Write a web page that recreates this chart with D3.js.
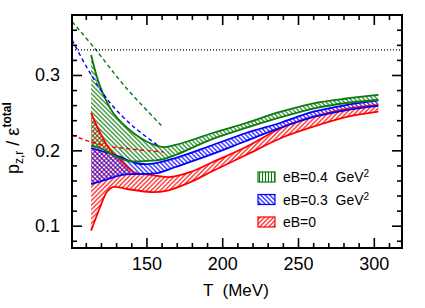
<!DOCTYPE html>
<html><head><meta charset="utf-8">
<script src="https://cdn.jsdelivr.net/npm/d3@7"></script>
<style>body{margin:0;background:#fff}svg{display:block}text{font-family:"Liberation Sans",Arial,sans-serif}</style>
</head><body><svg id="c" width="425" height="308"></svg>
<script>
// ---------- data ----------
const xMajorTicks = [150, 200, 250, 300];
const xMinorTicks = [110,120,130,140,160,170,180,190,210,220,230,240,260,270,280,290,310];
const yMajorTicks = [0.1, 0.2, 0.3];
const yMinorTicks = [0.08,0.12,0.14,0.16,0.18,0.22,0.24,0.26,0.28,0.32,0.34,0.36];
const idealGas = 1/3;

// eB = 0.4 GeV^2 band
const greenUpT = [113.5,119.5,128.1,141.4,150.7,161.3,169.2,193.8,215.7,238.1,260.2,282.1,303];
const greenUpV = [0.3265,0.2845,0.2496,0.2230,0.2111,0.2044,0.2071,0.2230,0.2363,0.2509,0.2624,0.2688,0.2735];
const greenLoT = [113.5,119.5,128.1,138.1,150.7,161.3,169.2,193.8,215.7,238.1,260.2,282.1,303];
const greenLoV = [0.2058,0.2031,0.1938,0.1859,0.1859,0.1885,0.1938,0.2151,0.2297,0.2436,0.2555,0.2628,0.2668];
// eB = 0.3 GeV^2 band
const blueUpT = [113.5,122.8,132.7,142.7,152.7,169.2,193.8,215.7,238.1,260.2,282.1,303];
const blueUpV = [0.2031,0.1978,0.1912,0.1832,0.1819,0.1898,0.2071,0.2230,0.2363,0.2513,0.2602,0.2662];
const blueLoT = [113.5,122.8,134.1,142.7,157.3,169.2,193.8,215.7,238.1,260.2,282.1,303];
const blueLoV = [0.1553,0.1607,0.1673,0.1686,0.1699,0.1779,0.1952,0.2124,0.2297,0.2443,0.2535,0.2589];
// eB = 0 band
const redUpT = [113.5,119.5,126.1,134.1,141.4,152.7,165.9,179.2,193.8,215.7,238.9,260.2,282.1,303];
const redUpV = [0.2496,0.2230,0.2005,0.1845,0.1713,0.1673,0.1646,0.1713,0.1845,0.2044,0.2297,0.2447,0.2549,0.2602];
const redLoT = [113.5,119.5,123.9,128.1,137.4,152.7,163.9,179.2,193.8,215.7,238.9,260.2,282.1,303];
const redLoV = [0.0934,0.1248,0.1447,0.1514,0.1487,0.1447,0.1467,0.1580,0.1726,0.1938,0.2164,0.2314,0.2443,0.2513];

// dashed (model) curves
const greenDashT = [101, 116.2, 136.1, 160.6];
const greenDashV = [0.3707, 0.3345, 0.2841, 0.2314];
const blueDashT = [101, 112.8, 126.1, 141.4, 157.3];
const blueDashV = [0.3464, 0.3027, 0.2628, 0.2314, 0.2071];
const redDashT = [101, 112.8, 126.1, 139.4, 161.3];
const redDashV = [0.2204, 0.2115, 0.2051, 0.2018, 0.1978];

const legendLabels = ["eB=0.4  GeV", "eB=0.3  GeV", "eB=0"];
const legendSup = ["2", "2", ""];

// ---------- drawing ----------
const svg = d3.select("#c");
const L = 72, R = 402, T = 15, B = 248;
const x = d3.scaleLinear().domain([100.9, 318.6]).range([L, R]);
const y = d3.scaleLinear().domain([0.0704, 0.3796]).range([B, T]);
const GREEN = "#0a7a0a", BLUE = "#0000ff", RED = "#ff0000";

const defs = svg.append("defs");
defs.append("clipPath").attr("id","clip").append("rect").attr("x",L).attr("y",T).attr("width",R-L).attr("height",B-T);
function hatch(id, color, angle, sp, sw) {
  const p = defs.append("pattern").attr("id", id).attr("patternUnits","userSpaceOnUse")
    .attr("width", sp).attr("height", sp).attr("patternTransform", `rotate(${angle})`);
  p.append("line").attr("x1", sp/2).attr("y1", 0).attr("x2", sp/2).attr("y2", sp)
    .attr("stroke", color).attr("stroke-width", sw);
}
hatch("hRed", RED, 45, 3.2, 1.1);
hatch("hBlue", BLUE, -45, 3.2, 1.1);
hatch("hGreen", GREEN, -45, 3.2, 1.1);
hatch("hGreenLeg", GREEN, 0, 3, 1.1);

const g = svg.append("g").attr("clip-path","url(#clip)");
const line = d3.line().x(d => x(d[0])).y(d => y(d[1])).curve(d3.curveCatmullRom.alpha(0.5));
const zip = (a, b) => a.map((v, i) => [v, b[i]]);

function band(upT, upV, loT, loV, color, pat) {
  const up = zip(upT, upV), lo = zip(loT, loV).reverse();
  const d = line(up) + "L" + line(lo).slice(1) + "Z";
  g.append("path").attr("d", d).attr("fill", `url(#${pat})`).attr("stroke", "none");
  return [up, lo];
}
const bands = [
  band(redUpT, redUpV, redLoT, redLoV, RED, "hRed"),
  band(blueUpT, blueUpV, blueLoT, blueLoV, BLUE, "hBlue"),
  band(greenUpT, greenUpV, greenLoT, greenLoV, GREEN, "hGreen")
];
const cols = [RED, BLUE, GREEN];
bands.forEach((b, i) => b.forEach(c => g.append("path").attr("d", line(c)).attr("fill","none")
  .attr("stroke", cols[i]).attr("stroke-width", 1.8)));

[[greenDashT, greenDashV, GREEN], [blueDashT, blueDashV, BLUE], [redDashT, redDashV, RED]].forEach(([t, v, c]) => {
  g.append("path").attr("d", line(zip(t, v))).attr("fill","none").attr("stroke", c)
    .attr("stroke-width", 1.4).attr("stroke-dasharray", "4,3");
});

g.append("line").attr("x1", L).attr("x2", R).attr("y1", y(idealGas)).attr("y2", y(idealGas))
  .attr("stroke","#000").attr("stroke-width",1.1).attr("stroke-dasharray","1,2");

// axes
function ax(gen, tr, vals, size, labels) {
  const a = svg.append("g").attr("transform", tr)
    .call(gen.tickValues(vals).tickSize(size).tickPadding(labels ? 9 : 0)
      .tickFormat(labels ? d3.format("") : () => ""));
  a.select(".domain").remove();
  a.selectAll("line").attr("stroke","#000").attr("stroke-width",1.6);
  a.selectAll("text").style("font-size","18px").attr("fill","#000");
  return a;
}
ax(d3.axisBottom(x), `translate(0,${B})`, xMajorTicks, -10, true);
ax(d3.axisBottom(x), `translate(0,${B})`, xMinorTicks, -5, false);
ax(d3.axisTop(x), `translate(0,${T})`, xMajorTicks, -10, false);
ax(d3.axisTop(x), `translate(0,${T})`, xMinorTicks, -5, false);
const yl = ax(d3.axisLeft(y), `translate(${L},0)`, yMajorTicks, -10, true);
yl.selectAll("text").attr("x", -12);
ax(d3.axisLeft(y), `translate(${L},0)`, yMinorTicks, -5, false);
ax(d3.axisRight(y), `translate(${R},0)`, yMajorTicks, -10, false);
ax(d3.axisRight(y), `translate(${R},0)`, yMinorTicks, -5, false);

svg.append("rect").attr("x", L).attr("y", T).attr("width", R-L).attr("height", B-T)
  .attr("fill","none").attr("stroke","#000").attr("stroke-width",2);

// axis titles
svg.append("text").attr("x", 203).attr("y", 296).style("font-size","17px").style("white-space","pre")
  .text("T  (MeV)");
const yt = svg.append("text").attr("transform","translate(19,174) rotate(-90)").style("font-size","18px").style("white-space","pre");
yt.append("tspan").text("p");
yt.append("tspan").attr("dy", 4).style("font-size","12px").text("z,r");
yt.append("tspan").attr("dy", -4).text(" / ");
yt.append("tspan").text("ε");
yt.append("tspan").attr("dy", -8).style("font-size","12px").style("font-weight","bold").text("total");

// legend
const legPats = ["hGreenLeg", "hBlue", "hRed"], legCols = [GREEN, BLUE, RED];
legendLabels.forEach((lab, i) => {
  const cy = 177 + i * 22.5;
  svg.append("rect").attr("x", 258).attr("y", cy - 5).attr("width", 17).attr("height", 10)
    .attr("fill", `url(#${legPats[i]})`).attr("stroke", legCols[i]).attr("stroke-width", 1.2);
  const t = svg.append("text").attr("x", 283).attr("y", cy + 5).style("font-size","14px").style("white-space","pre").text(lab);
  if (legendSup[i]) t.append("tspan").attr("dy", -5).style("font-size","10px").text(legendSup[i]);
});
</script></body></html>
